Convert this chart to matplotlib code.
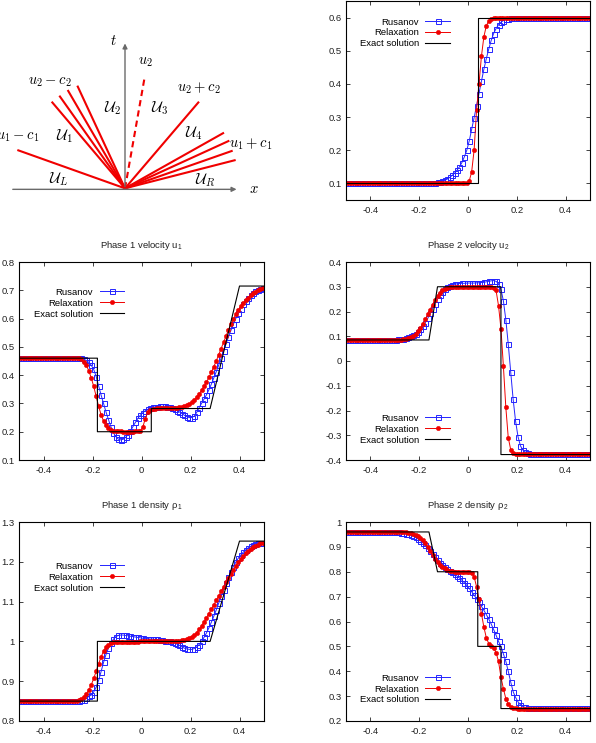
import numpy as np
import matplotlib
matplotlib.use('Agg')
import matplotlib.pyplot as plt

plt.rcParams['font.family'] = ['Liberation Sans', 'DejaVu Sans']
plt.rcParams['mathtext.fontset'] = 'cm'

# cell centres of the 100-cell mesh on [-0.5, 0.5]
x = np.arange(100) * 0.01 - 0.495

# ---- volume fraction (top right)
alpha_rus = [0.1]*35 + [0.101, 0.102, 0.103, 0.104, 0.106, 0.109, 0.113, 0.118, 0.124, 0.131,
                        0.14, 0.15, 0.163, 0.18, 0.2, 0.228, 0.263, 0.298, 0.334, 0.371,
                        0.408, 0.444, 0.476, 0.505, 0.531, 0.552, 0.567, 0.578, 0.586, 0.591,
                        0.595, 0.597, 0.598, 0.599] + [0.6]*31
alpha_rel = [0.1]*49 + [0.101, 0.107, 0.135, 0.2, 0.32, 0.40, 0.483, 0.542, 0.575, 0.59, 0.597] + [0.6]*40
alpha_ex_x = [-0.5, 0.04, 0.04, 0.5]
alpha_ex = [0.1, 0.1, 0.6, 0.6]

# ---- phase 1 velocity
u1_rus = [0.46]*25 + [0.459, 0.456, 0.452, 0.445, 0.435,
                      0.42, 0.395, 0.362, 0.33, 0.30,
                      0.27, 0.243, 0.218, 0.197, 0.183,
                      0.174, 0.171, 0.173, 0.18, 0.19,
                      0.203, 0.218, 0.233, 0.247, 0.258,
                      0.267, 0.274, 0.279, 0.283, 0.286,
                      0.288, 0.289, 0.29, 0.29, 0.29,
                      0.289, 0.287, 0.284, 0.28, 0.275,
                      0.27, 0.264, 0.258, 0.253, 0.25,
                      0.25, 0.255, 0.268, 0.285, 0.30,
                      0.315, 0.33, 0.348, 0.368, 0.39,
                      0.412, 0.435, 0.46, 0.485, 0.51,
                      0.535, 0.558, 0.58, 0.60, 0.618,
                      0.635, 0.65, 0.663, 0.674, 0.683,
                      0.691, 0.697, 0.702, 0.705, 0.708]
u1_rel = [0.46]*24 + [0.459, 0.456, 0.448, 0.435, 0.415, 0.39,
                      0.36, 0.325, 0.29, 0.26, 0.238,
                      0.222, 0.212, 0.206, 0.203, 0.202,
                      0.201, 0.201, 0.2, 0.2, 0.2,
                      0.2, 0.2, 0.201, 0.201, 0.203,
                      0.215, 0.245, 0.268, 0.277, 0.28,
                      0.282, 0.283, 0.284, 0.284, 0.284,
                      0.284, 0.284, 0.284, 0.284, 0.285,
                      0.286, 0.288, 0.291, 0.294, 0.298,
                      0.305, 0.313, 0.322, 0.333, 0.346,
                      0.36, 0.375, 0.392, 0.41, 0.43,
                      0.45, 0.472, 0.494, 0.516, 0.538,
                      0.56, 0.58, 0.598, 0.615, 0.63,
                      0.643, 0.655, 0.665, 0.674, 0.682,
                      0.689, 0.695, 0.7, 0.704, 0.707]
u1_ex_x = [-0.5, -0.18, -0.18, 0.04, 0.04, 0.28, 0.4, 0.5]
u1_ex = [0.46, 0.46, 0.2, 0.2, 0.282, 0.282, 0.715, 0.715]

# ---- phase 2 velocity
u2_rus = [0.085]*20 + [0.086, 0.087, 0.088, 0.09, 0.092,
                       0.095, 0.099, 0.104, 0.11, 0.118,
                       0.128, 0.14, 0.155, 0.172, 0.192,
                       0.212, 0.232, 0.25, 0.266, 0.279,
                       0.289, 0.297, 0.303, 0.307, 0.31,
                       0.312, 0.313, 0.314, 0.314, 0.315,
                       0.315, 0.315, 0.315, 0.316, 0.316,
                       0.317, 0.318, 0.32, 0.322, 0.324,
                       0.325, 0.322, 0.312, 0.29, 0.243,
                       0.167, 0.068, -0.044, -0.155, -0.243,
                       -0.306, -0.343, -0.36, -0.368, -0.372,
                       -0.374] + [-0.375]*24
u2_rel = [0.085]*22 + [0.086, 0.087, 0.089, 0.092, 0.096,
                       0.102, 0.11, 0.121, 0.134, 0.15,
                       0.168, 0.188, 0.208, 0.228, 0.246,
                       0.262, 0.275, 0.285, 0.291, 0.295,
                       0.298] + [0.3]*15 + [0.299, 0.298, 0.295, 0.285, 0.224,
                                            0.131, -0.02, -0.187, -0.31, -0.358,
                                            -0.372, -0.376] + [-0.377]*30
u2_ex_x = [-0.5, -0.16, -0.125, 0.135, 0.135, 0.5]
u2_ex = [0.085, 0.085, 0.3, 0.3, -0.378, -0.378]

# ---- phase 1 density
rho1_rus = [0.85]*24 + [0.851, 0.852, 0.854, 0.857, 0.862,
                        0.865, 0.873, 0.885, 0.902, 0.924,
                        0.947, 0.967, 0.983, 0.996, 1.005,
                        1.012, 1.015, 1.016, 1.016, 1.015,
                        1.014, 1.013, 1.012, 1.011, 1.01,
                        1.009, 1.008, 1.007, 1.007, 1.006,
                        1.006, 1.005, 1.005, 1.004, 1.003,
                        1.002, 1.001, 1.0, 0.998, 0.996,
                        0.993, 0.99, 0.986, 0.983, 0.981,
                        0.98, 0.98, 0.982, 0.986, 0.992,
                        1.0, 1.01, 1.021, 1.034, 1.048,
                        1.063, 1.079, 1.096, 1.113, 1.13,
                        1.146, 1.161, 1.175, 1.188, 1.199,
                        1.209, 1.217, 1.224, 1.23, 1.235,
                        1.239, 1.242, 1.244, 1.246, 1.247,
                        1.248]
rho1_rel = [0.85]*23 + [0.851, 0.853, 0.856, 0.861, 0.868,
                        0.878, 0.891, 0.907, 0.925, 0.944,
                        0.961, 0.975, 0.985, 0.992, 0.996,
                        0.998] + [0.999]*10 + [1.0]*14 + [1.001, 1.002, 1.002, 1.003, 1.004,
                                                          1.006, 1.008, 1.011, 1.016, 1.022,
                                                          1.03, 1.039, 1.049, 1.059, 1.07,
                                                          1.081, 1.092, 1.103, 1.114, 1.126,
                                                          1.137, 1.148, 1.159, 1.17, 1.18,
                                                          1.19, 1.199, 1.207, 1.214, 1.221,
                                                          1.227, 1.232, 1.237, 1.24, 1.243,
                                                          1.246, 1.248]
rho1_ex_x = [-0.5, -0.18, -0.18, 0.28, 0.4, 0.5]
rho1_ex = [0.85, 0.85, 1.0, 1.0, 1.252, 1.252]

# ---- phase 2 density
rho2_rus = [0.96]*18 + [0.959, 0.959, 0.959, 0.958, 0.957,
                        0.955, 0.953, 0.95, 0.947, 0.943,
                        0.938, 0.932, 0.925, 0.916, 0.906,
                        0.895, 0.883, 0.87, 0.858, 0.847,
                        0.837, 0.828, 0.82, 0.812, 0.805,
                        0.798, 0.791, 0.783, 0.775, 0.766,
                        0.756, 0.745, 0.733, 0.72, 0.706,
                        0.692, 0.677, 0.661, 0.645, 0.628,
                        0.61, 0.59, 0.568, 0.545, 0.52,
                        0.5, 0.47, 0.44, 0.4, 0.357,
                        0.318, 0.295, 0.277, 0.265, 0.258,
                        0.255, 0.253, 0.252] + [0.251]*24
rho2_rel = [0.96]*23 + [0.959, 0.958, 0.957, 0.955, 0.952,
                        0.948, 0.943, 0.936, 0.927, 0.915,
                        0.9, 0.884, 0.868, 0.853, 0.84,
                        0.829, 0.821, 0.814, 0.809, 0.805,
                        0.803, 0.801] + [0.8]*5 + [0.799, 0.795, 0.78, 0.74, 0.69,
                                                   0.632, 0.578, 0.535, 0.511, 0.503,
                                                   0.494, 0.475, 0.44, 0.377, 0.33,
                                                   0.29, 0.27, 0.258, 0.253, 0.251] + [0.25]*30
rho2_ex_x = [-0.5, -0.16, -0.125, 0.04, 0.04, 0.135, 0.135, 0.5]
rho2_ex = [0.96, 0.96, 0.8, 0.8, 0.5, 0.5, 0.25, 0.25]

xticks = [-0.4, -0.2, 0, 0.2, 0.4]
labels = ['Rusanov', 'Relaxation', 'Exact solution']

# wave fan sketch (end points relative to the origin, sketch units)
fan_left_dx = [-323, -220, -197, -172, -143]
fan_left_dy = [115, 260, 278, 295, 308]
fan_right_dx = [222, 297, 313, 323, 332]
fan_right_dy = [260, 167, 143, 113, 85]
contact_dx, contact_dy = 58, 328

blue = '#2424ff'
red = '#f00000'

W, H = 596, 743
fig = plt.figure(figsize=(W/100, H/100), dpi=100)


def box(left, top, right, bottom):
    return [left/W, 1 - bottom/H, (right-left)/W, (bottom-top)/H]


def panel(ax, rus, rel, ex_x, ex_y, ylim, yticks, title, leg_loc, leg_anchor):
    ax.plot(x, rus, color=blue, lw=0.7, marker='s', ms=3.6, mfc='none', mec=blue, mew=0.7, label=labels[0])
    ax.plot(x, rel, color=red, lw=0.7, marker='o', ms=3.2, mfc=red, mec=red, mew=0.3, label=labels[1])
    ax.plot(ex_x, ex_y, color='k', lw=0.8, label=labels[2])
    ax.set_xlim(-0.5, 0.5)
    ax.set_ylim(*ylim)
    ax.set_xticks(xticks)
    ax.set_xticklabels(['%g' % t for t in xticks])
    ax.set_yticks(yticks)
    ax.set_yticklabels(['%g' % t for t in yticks])
    ax.tick_params(direction='in', top=True, right=True, length=3, width=0.6,
                   labelsize=6.8, colors='#222222')
    ax.tick_params(axis='y', pad=3)
    ax.tick_params(axis='x', pad=4)
    for s in ax.spines.values():
        s.set_linewidth(0.8)
    if title:
        ax.set_title(title, fontsize=6.8, pad=10, color='#222222')
    ax.legend(loc=leg_loc, bbox_to_anchor=leg_anchor, markerfirst=False, frameon=False,
              fontsize=6.8, handlelength=2.6, handletextpad=0.7, labelspacing=0.2,
              borderpad=0, borderaxespad=0, numpoints=1)


# ---- sketch of the Riemann fan
axd = fig.add_axes([0, 1 - 210/H, 300/W, 210/H])
axd.set_xlim(0, 900)
axd.set_ylim(630, 0)
axd.axis('off')
ox, oy = 375, 565
axd.annotate('', xy=(718, 568), xytext=(30, 568),
             arrowprops=dict(arrowstyle='-|>', color='#6a6a6a', lw=1, mutation_scale=7))
axd.annotate('', xy=(375, 122), xytext=(375, 568),
             arrowprops=dict(arrowstyle='-|>', color='#6a6a6a', lw=1, mutation_scale=7))
for dx, dy in zip(fan_left_dx + fan_right_dx, fan_left_dy + fan_right_dy):
    axd.plot([ox, ox + dx], [oy, oy - dy], color=red, lw=1.5, solid_capstyle='butt')
axd.plot([ox, ox + contact_dx], [oy, oy - contact_dy], color=red, lw=1.5, ls=(0, (3, 2)))

fs = 10.5
axd.text(340, 122, r'$t$', fontsize=fs, ha='center', va='center')
axd.text(762, 568, r'$x$', fontsize=fs, ha='center', va='center')
axd.text(150, 245, r'$u_2 - c_2$', fontsize=fs, ha='center', va='center')
axd.text(118, 410, r'$u_1 - c_1$', fontsize=fs, ha='right', va='center')
axd.text(435, 187, r'$u_2$', fontsize=fs, ha='center', va='center')
axd.text(597, 265, r'$u_2 + c_2$', fontsize=fs, ha='center', va='center')
axd.text(752, 432, r'$u_1 + c_1$', fontsize=fs, ha='center', va='center')
fu = 11
axd.text(195, 410, r'$\mathcal{U}_1$', fontsize=fu, ha='center', va='center')
axd.text(338, 325, r'$\mathcal{U}_2$', fontsize=fu, ha='center', va='center')
axd.text(478, 325, r'$\mathcal{U}_3$', fontsize=fu, ha='center', va='center')
axd.text(580, 400, r'$\mathcal{U}_4$', fontsize=fu, ha='center', va='center')
axd.text(175, 537, r'$\mathcal{U}_L$', fontsize=fu, ha='center', va='center')
axd.text(615, 540, r'$\mathcal{U}_R$', fontsize=fu, ha='center', va='center')

# ---- numerical results
ax1 = fig.add_axes(box(346, 1, 590, 200))
panel(ax1, alpha_rus, alpha_rel, alpha_ex_x, alpha_ex, (0.05, 0.65),
      [0.1, 0.2, 0.3, 0.4, 0.5, 0.6], None, 'upper right', (0.426, 0.917))

ax2 = fig.add_axes(box(19, 262, 264, 460))
panel(ax2, u1_rus, u1_rel, u1_ex_x, u1_ex, (0.1, 0.8),
      [0.1, 0.2, 0.3, 0.4, 0.5, 0.6, 0.7, 0.8], r'Phase 1 velocity u$_\mathregular{1}$',
      'upper right', (0.429, 0.87))

ax3 = fig.add_axes(box(346, 262, 590, 460))
panel(ax3, u2_rus, u2_rel, u2_ex_x, u2_ex, (-0.4, 0.4),
      [-0.4, -0.3, -0.2, -0.1, 0, 0.1, 0.2, 0.3, 0.4], r'Phase 2 velocity u$_\mathregular{2}$',
      'lower right', (0.426, 0.078))

ax4 = fig.add_axes(box(19, 522, 264, 721))
panel(ax4, rho1_rus, rho1_rel, rho1_ex_x, rho1_ex, (0.8, 1.3),
      [0.8, 0.9, 1, 1.1, 1.2, 1.3], r'Phase 1 density ρ$_\mathregular{1}$',
      'upper right', (0.429, 0.80))

ax5 = fig.add_axes(box(346, 522, 590, 721))
panel(ax5, rho2_rus, rho2_rel, rho2_ex_x, rho2_ex, (0.2, 1.0),
      [0.2, 0.3, 0.4, 0.5, 0.6, 0.7, 0.8, 0.9, 1], r'Phase 2 density ρ$_\mathregular{2}$',
      'lower right', (0.426, 0.083))

fig.savefig('out.png', dpi=100)
